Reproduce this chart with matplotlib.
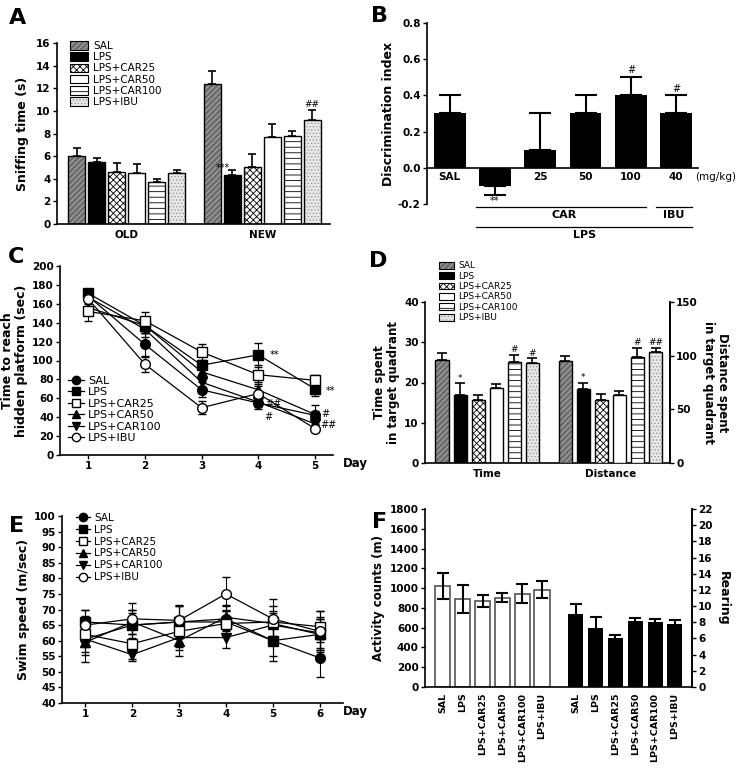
import matplotlib.pyplot as plt
from matplotlib.patches import Patch
from matplotlib.lines import Line2D
import numpy as np

plt.rcParams['font.family'] = ['DejaVu Sans']
plt.rcParams['font.weight'] = 'bold'
plt.rcParams['axes.labelweight'] = 'bold'
plt.rcParams['hatch.linewidth'] = 0.6
plt.rcParams['axes.linewidth'] = 1.2

W, H = 739, 770

groups = ['SAL', 'LPS', 'LPS+CAR25', 'LPS+CAR50', 'LPS+CAR100', 'LPS+IBU']

# A - sniffing time
A_old = [6.0, 5.5, 4.6, 4.5, 3.7, 4.5]
A_old_err = [0.7, 0.3, 0.8, 0.8, 0.3, 0.3]
A_new = [12.4, 4.3, 5.0, 7.7, 7.8, 9.2]
A_new_err = [1.1, 0.5, 1.2, 1.1, 0.4, 0.9]

# B - discrimination index
B_labels = ['SAL', '', '25', '50', '100', '40']
B_vals = [0.3, -0.1, 0.1, 0.3, 0.4, 0.3]
B_err = [0.1, 0.05, 0.2, 0.1, 0.1, 0.1]

# C - time to reach hidden platform
C_days = [1, 2, 3, 4, 5]
C_means = {
    'SAL': [168, 117, 69, 55, 42],
    'LPS': [171, 137, 95, 106, 70],
    'LPS+CAR25': [152, 142, 109, 85, 79],
    'LPS+CAR50': [156, 137, 88, 69, 43],
    'LPS+CAR100': [167, 133, 77, 56, 33],
    'LPS+IBU': [165, 96, 50, 65, 28],
}
C_errs = {
    'SAL': [5, 12, 8, 6, 5],
    'LPS': [4, 8, 10, 13, 8],
    'LPS+CAR25': [10, 9, 8, 10, 6],
    'LPS+CAR50': [6, 8, 8, 8, 10],
    'LPS+CAR100': [5, 8, 9, 5, 5],
    'LPS+IBU': [5, 8, 7, 8, 4],
}

# D - probe trial
D_time = [25.6, 16.8, 15.6, 18.6, 25.0, 24.8]
D_time_err = [1.7, 3.0, 1.4, 1.0, 1.8, 1.2]
D_dist = [95, 69, 59, 63, 99, 103]
D_dist_err = [5, 5.5, 5, 4, 8.5, 4.5]

# E - swim speed
E_days = [1, 2, 3, 4, 5, 6]
E_means = {
    'SAL': [60.5, 65, 66, 67, 60, 54.5],
    'LPS': [66, 65, 66, 66, 60, 62],
    'LPS+CAR25': [62, 59, 63, 65.5, 66, 64.5],
    'LPS+CAR50': [59.5, 66, 60, 67.5, 65.5, 62],
    'LPS+CAR100': [60.5, 55.5, 61, 61, 65, 62.5],
    'LPS+IBU': [65, 67, 66.5, 75, 67, 63],
}
E_errs = {
    'SAL': [7.5, 5, 5, 4, 6.5, 6],
    'LPS': [4, 4, 5, 4, 5, 5],
    'LPS+CAR25': [4, 5, 5, 4, 5, 5],
    'LPS+CAR50': [4, 4, 5, 4, 4, 5],
    'LPS+CAR100': [4, 2, 4, 3.5, 4, 5],
    'LPS+IBU': [5, 5, 5, 5.5, 6.5, 6.5],
}

# F - open field
F_act = [1020, 890, 870, 905, 945, 985]
F_act_err = [130, 145, 60, 50, 95, 90]
F_rear = [9.0, 7.3, 6.05, 8.15, 8.0, 7.8]
F_rear_err = [1.2, 1.3, 0.4, 0.35, 0.4, 0.45]

bar_styles = [
    dict(fc='#6e6e6e', hatch='//////', hc='#b4b4b4'),
    dict(fc='black', hatch=None, hc='black'),
    dict(fc='white', hatch='xxxxx', hc='black'),
    dict(fc='white', hatch=None, hc='white'),
    dict(fc='white', hatch='---', hc='black'),
    dict(fc='#e8e8e8', hatch='.....', hc='#9a9a9a'),
]
markers = {
    'SAL': ('o', 'black'), 'LPS': ('s', 'black'), 'LPS+CAR25': ('s', 'white'),
    'LPS+CAR50': ('^', 'black'), 'LPS+CAR100': ('v', 'black'), 'LPS+IBU': ('o', 'white'),
}

fig = plt.figure(figsize=(W / 100, H / 100), dpi=100)


def axes_px(l, t, r, b):
    return fig.add_axes([l / W, 1 - b / H, (r - l) / W, (b - t) / H])


def ftext(x, y, s, **kw):
    fig.text(x / W, 1 - y / H, s, **kw)


def style_axes(ax, right=False):
    ax.spines['top'].set_visible(False)
    if not right:
        ax.spines['right'].set_visible(False)
    ax.tick_params(direction='out', length=3, width=1, labelsize=7.5, pad=1.5)
    for t in ax.get_xticklabels() + ax.get_yticklabels():
        t.set_fontweight('bold')


def hbar(ax, x, h, w, st):
    ax.bar(x, h, w, color=st['fc'], edgecolor=st['hc'], hatch=st['hatch'], linewidth=0, zorder=2)
    ax.bar(x, h, w, fill=False, edgecolor='black', linewidth=1, zorder=3)


def bar_handles():
    hs = []
    for st in bar_styles:
        hs.append((Patch(facecolor=st['fc'], edgecolor=st['hc'], hatch=st['hatch'], lw=0),
                   Patch(fill=False, edgecolor='black', lw=0.8)))
    return hs


def line_handles():
    hs = []
    for g in groups:
        m, fc = markers[g]
        hs.append(Line2D([], [], color='black', lw=0.9, marker=m, mfc=fc, mec='black', mew=1,
                         ms=6 if m in 'o^v' else 5.5))
    return hs


# ---------- A ----------
ax = axes_px(57, 43, 330, 224)
pos_old = np.arange(6)
pos_new = np.arange(6) + 6.8
for i in range(6):
    hbar(ax, pos_old[i], A_old[i], 0.85, bar_styles[i])
    hbar(ax, pos_new[i], A_new[i], 0.85, bar_styles[i])
ax.errorbar(pos_old, A_old, yerr=[[0] * 6, A_old_err], fmt='none', ecolor='black',
            elinewidth=1.2, capsize=3, capthick=1.2, zorder=4)
ax.errorbar(pos_new, A_new, yerr=[[0] * 6, A_new_err], fmt='none', ecolor='black',
            elinewidth=1.2, capsize=3, capthick=1.2, zorder=4)
ax.set_xlim(-1, 12.7)
ax.set_ylim(0, 16)
ax.set_yticks(np.arange(0, 17, 2))
ax.set_xticks([2.5, 9.3])
ax.set_xticklabels(['OLD', 'NEW'])
ax.set_ylabel('Sniffing time (s)', fontsize=9, labelpad=5)
style_axes(ax)
ax.tick_params(axis='x', length=0, pad=4)
ax.text(pos_new[1] - 0.5, A_new[1] + 0.2, '***', ha='center', va='bottom', fontsize=7, fontweight='normal')
ax.text(pos_new[5], A_new[5] + A_new_err[5] + 0.1, '##', ha='center', va='bottom', fontsize=6.5,
        fontweight='normal')
ax.legend(bar_handles(), groups, loc='upper left', bbox_to_anchor=(0.03, 1.04), frameon=False,
          prop={'size': 7.5, 'weight': 'normal'}, handlelength=1.7, handleheight=0.9,
          labelspacing=0.12, handletextpad=0.5, borderpad=0)

# ---------- B ----------
ax = axes_px(427, 23, 698, 204)
xb = np.arange(6)
ax.bar(xb, B_vals, 0.7, color='black', zorder=2)
up = [e if v >= 0 else 0 for v, e in zip(B_vals, B_err)]
dn = [e if v < 0 else 0 for v, e in zip(B_vals, B_err)]
ax.errorbar(xb, B_vals, yerr=[dn, up], fmt='none', ecolor='black', elinewidth=1.5,
            capsize=8, capthick=1.5, zorder=3)
ax.set_xlim(-0.5, 5.48)
ax.set_ylim(-0.2, 0.8)
ax.set_yticks(np.arange(-0.2, 0.81, 0.2))
ax.set_yticklabels(['-0.2', '0.0', '0.2', '0.4', '0.6', '0.8'])
ax.spines['bottom'].set_position(('data', 0))
ax.set_xticks([])
ax.set_ylabel('Discrimination index', fontsize=9, labelpad=2)
style_axes(ax)
for i, lab in enumerate(B_labels):
    ax.text(xb[i], -0.025, lab, ha='center', va='top', fontsize=7.5, fontweight='bold')
ax.text(5.87, -0.025, '(mg/kg)', ha='center', va='top', fontsize=7.5, fontweight='normal')
ax.text(1, -0.155, '**', ha='center', va='top', fontsize=7, fontweight='normal')
ax.text(4, 0.51, '#', ha='center', va='bottom', fontsize=7, fontweight='normal')
ax.text(5, 0.41, '#', ha='center', va='bottom', fontsize=7, fontweight='normal')
ax.plot([0.59, 4.33], [-0.217, -0.217], color='black', lw=0.9, clip_on=False)
ax.plot([4.55, 5.34], [-0.217, -0.217], color='black', lw=0.9, clip_on=False)
ax.plot([0.59, 5.34], [-0.327, -0.327], color='black', lw=0.9, clip_on=False)
ax.text(2.53, -0.235, 'CAR', ha='center', va='top', fontsize=8)
ax.text(4.95, -0.235, 'IBU', ha='center', va='top', fontsize=8)
ax.text(2.97, -0.342, 'LPS', ha='center', va='top', fontsize=8)


# ---------- C ----------
def line_panel(ax, days, means, errs):
    for g in groups:
        m, fc = markers[g]
        ax.errorbar(days, means[g], yerr=errs[g], color='black', lw=0.9, marker=m, mfc=fc,
                    mec='black', mew=1, ms=7 if m in 'o^v' else 6.5, elinewidth=0.8,
                    capsize=3, capthick=0.8, zorder=3 if fc == 'white' else 2)


ax = axes_px(60, 266, 333, 455)
line_panel(ax, C_days, C_means, C_errs)
ax.set_xlim(0.5, 5.32)
ax.set_ylim(0, 200)
ax.set_yticks(np.arange(0, 201, 20))
ax.set_xticks(C_days)
ax.set_ylabel('Time to reach\nhidden platform (sec)', fontsize=9, labelpad=3, linespacing=1.1)
style_axes(ax)
ftext(355, 463, 'Day', ha='center', va='center', fontsize=8.5)
kw = dict(fontsize=7, fontweight='normal', va='center', ha='left')
ax.text(4.2, 106, '**', **kw)
ax.text(5.2, 68, '**', **kw)
ax.text(4.12, 54, '##', **kw)
ax.text(4.1, 40, '#', **kw)
ax.text(5.12, 43, '#', **kw)
ax.text(5.1, 32, '##', **kw)
ax.legend(line_handles(), groups, loc='upper left', bbox_to_anchor=(0.01, 0.45), frameon=False,
          prop={'size': 8, 'weight': 'normal'}, handlelength=1.4, labelspacing=0.14,
          handletextpad=0.4, borderpad=0)

# ---------- D ----------
ax = axes_px(425, 302, 670, 463)
pos_t = np.arange(6)
pos_d = np.arange(6) + 6.8
ax2 = ax.twinx()
for i in range(6):
    hbar(ax, pos_t[i], D_time[i], 0.72, bar_styles[i])
    hbar(ax2, pos_d[i], D_dist[i], 0.72, bar_styles[i])
ax.errorbar(pos_t, D_time, yerr=[[0] * 6, D_time_err], fmt='none', ecolor='black',
            elinewidth=1.2, capsize=3.5, capthick=1.2, zorder=4)
ax2.errorbar(pos_d, D_dist, yerr=[[0] * 6, D_dist_err], fmt='none', ecolor='black',
             elinewidth=1.2, capsize=3.5, capthick=1.2, zorder=4)
for a in (ax, ax2):
    a.set_xlim(-0.94, 12.6)
ax.set_ylim(0, 40)
ax2.set_ylim(0, 150)
ax.set_yticks([0, 10, 20, 30, 40])
ax2.set_yticks([0, 50, 100, 150])
ax.set_xticks([2.5, 9.3])
ax.set_xticklabels(['Time', 'Distance'])
ax.set_ylabel('Time spent\nin target quadrant', fontsize=8.5, labelpad=3, linespacing=1.1)
ax2.set_ylabel('Distance spent\nin target quadrant', fontsize=8.5, rotation=270, labelpad=22,
               linespacing=1.1)
style_axes(ax, right=True)
style_axes(ax2, right=True)
ax.tick_params(axis='x', length=0, pad=4)
ax2.spines['left'].set_visible(False)
ax2.spines['bottom'].set_visible(False)
kw = dict(fontsize=6.5, fontweight='normal', ha='center', va='bottom')
ax.text(pos_t[1], D_time[1] + D_time_err[1] + 0.2, '*', **kw)
ax.text(pos_t[4], D_time[4] + D_time_err[4] + 0.2, '#', **kw)
ax.text(pos_t[5], D_time[5] + D_time_err[5] + 0.2, '#', **kw)
ax2.text(pos_d[1], D_dist[1] + D_dist_err[1] + 0.8, '*', **kw)
ax2.text(pos_d[4], D_dist[4] + D_dist_err[4] + 0.8, '#', **kw)
ax2.text(pos_d[5], D_dist[5] + D_dist_err[5] + 0.8, '##', **kw)
ax.legend(bar_handles(), groups, loc='upper left', bbox_to_anchor=(0.04, 1.28), frameon=False,
          prop={'size': 6.5, 'weight': 'normal'}, handlelength=1.6, handleheight=0.8,
          labelspacing=0.15, handletextpad=0.5, borderpad=0)

# ---------- E ----------
ax = axes_px(62, 516, 343, 703)
line_panel(ax, E_days, E_means, E_errs)
ax.set_xlim(0.5, 6.5)
ax.set_ylim(40, 100)
ax.set_yticks(np.arange(40, 101, 5))
ax.set_xticks(E_days)
ax.set_ylabel('Swim speed (m/sec)', fontsize=9, labelpad=3)
style_axes(ax)
ftext(355, 711, 'Day', ha='center', va='center', fontsize=8.5)
ax.legend(line_handles(), groups, loc='upper left', bbox_to_anchor=(0.03, 1.045), frameon=False,
          prop={'size': 7.5, 'weight': 'normal'}, handlelength=1.4, labelspacing=0.18,
          handletextpad=0.4, borderpad=0)

# ---------- F ----------
ax = axes_px(425, 509, 692, 687)
pos_a = np.arange(6)
pos_r = np.arange(6) + 6.7
ax2 = ax.twinx()
ax.bar(pos_a, F_act, 0.76, color='white', edgecolor='#555555', linewidth=1.2, zorder=2)
ax.errorbar(pos_a, F_act, yerr=F_act_err, fmt='none', ecolor='black', elinewidth=1.5,
            capsize=4.5, capthick=1.5, zorder=3)
ax2.bar(pos_r, F_rear, 0.76, color='black', zorder=2)
ax2.errorbar(pos_r, F_rear, yerr=F_rear_err, fmt='none', ecolor='black', elinewidth=1.5,
             capsize=4.5, capthick=1.5, zorder=3)
for a in (ax, ax2):
    a.set_xlim(-0.9, 12.56)
ax.set_ylim(0, 1800)
ax2.set_ylim(0, 22)
ax.set_yticks(np.arange(0, 1801, 200))
ax2.set_yticks(np.arange(0, 23, 2))
ax.set_xticks(np.concatenate([pos_a, pos_r]))
ax.set_xticklabels(groups + groups, rotation=90)
ax.set_ylabel('Activity counts (m)', fontsize=8.5, labelpad=3)
ax2.set_ylabel('Rearing', fontsize=9, rotation=270, labelpad=12)
style_axes(ax, right=True)
style_axes(ax2, right=True)
ax.tick_params(axis='x', length=0, pad=4, labelsize=6.8)
ax2.spines['left'].set_visible(False)
ax2.spines['bottom'].set_visible(False)

# panel letters
for letter, (x, y) in zip('ABCDEF', [(18, 18), (380, 16), (16, 257), (378, 261), (17, 526), (380, 522)]):
    ftext(x, y, letter, ha='center', va='center', fontsize=16, fontweight='bold')

fig.savefig('out.png', dpi=100)
